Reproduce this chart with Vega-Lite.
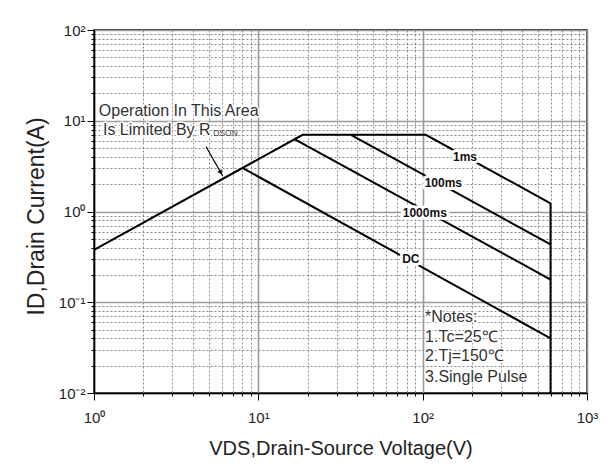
{
  "$schema": "https://vega.github.io/schema/vega-lite/v6.json",
  "width": 493,
  "height": 363,
  "autosize": {"type": "none"},
  "padding": {"left": 94, "top": 30, "right": 26, "bottom": 73},
  "background": "white",
  "config": {
    "view": {"stroke": "black", "strokeWidth": 1.5},
    "font": "Liberation Sans"
  },
  "datasets": {
    "curves": [
      {"s": "limit", "v": 1, "i": 0.378},
      {"s": "limit", "v": 18.6, "i": 7.0},
      {"s": "limit", "v": 104.5, "i": 7.0},
      {"s": "limit", "v": 600, "i": 1.23},
      {"s": "edge", "v": 600, "i": 1.23},
      {"s": "edge", "v": 600, "i": 0.01},
      {"s": "100ms", "v": 36.6, "i": 7.0},
      {"s": "100ms", "v": 600, "i": 0.433},
      {"s": "1000ms", "v": 16.7, "i": 6.25},
      {"s": "1000ms", "v": 600, "i": 0.178},
      {"s": "DC", "v": 8.1, "i": 2.99},
      {"s": "DC", "v": 600, "i": 0.0401}
    ],
    "curveLabels": [
      {"t": "1ms", "v": 181, "i": 4.02},
      {"t": "100ms", "v": 133.6, "i": 2.08},
      {"t": "1000ms", "v": 103, "i": 0.955},
      {"t": "DC", "v": 84.7, "i": 0.296}
    ],
    "notes": [
      {"t": "*Notes:", "v": 103.4, "i": 0.0693},
      {"t": "1.Tc=25℃", "v": 103.4, "i": 0.0417},
      {"t": "2.Tj=150℃", "v": 103.4, "i": 0.0256},
      {"t": "3.Single Pulse", "v": 103.4, "i": 0.0151},
      {"t": "Operation In This Area", "v": 1.07, "i": 12.8},
      {"t": "Is Limited By R", "v": 1.134, "i": 7.91}
    ],
    "sub": [
      {"t": "DSON", "v": 5.32, "i": 7.27}
    ],
    "arrow": [
      {"v": 4.81, "i": 5.18},
      {"v": 6.07, "i": 2.46}
    ],
    "arrowHead": [
      {"v": 5.9, "i": 2.69}
    ]
  },
  "encoding": {
    "x": {
      "field": "v",
      "type": "quantitative",
      "scale": {"type": "log", "domain": [1, 1000], "nice": false},
      "axis": {
        "values": [1, 2, 3, 4, 5, 6, 7, 8, 9, 10, 20, 30, 40, 50, 60, 70, 80, 90, 100, 200, 300, 400, 500, 600, 700, 800, 900, 1000],
        "title": "VDS,Drain-Source Voltage(V)",
        "labelExpr": "datum.value==1?'10⁰':datum.value==10?'10¹':datum.value==100?'10²':datum.value==1000?'10³':''",
        "labelFont": "Liberation Sans",
        "labelFontSize": 15,
        "labelColor": "#222",
        "labelPadding": 10,
        "labelOverlap": false,
        "labelFlush": false,
        "labelDx": 2,
        "tickColor": "black",
        "tickWidth": 1,
        "tickSize": {"condition": {"test": "indexof([1,10,100,1000], datum.value) >= 0", "value": 7}, "value": 3},
        "grid": true,
        "gridColor": {"condition": {"test": "indexof([1,10,100,1000], datum.value) >= 0", "value": "#9a9a9a"}, "value": "#8a8a8a"},
        "gridDash": {"condition": {"test": "indexof([1,10,100,1000], datum.value) >= 0", "value": [1, 0]}, "value": [2, 2]},
        "gridWidth": {"condition": {"test": "indexof([1,10,100,1000], datum.value) >= 0", "value": 1.6}, "value": 1},
        "domainColor": "black",
        "domainWidth": 1.5,
        "titleFont": "Liberation Sans",
        "titleFontSize": 20,
        "titleFontWeight": "normal",
        "titleColor": "#222",
        "titleBaseline": "alphabetic",
        "titleY": 61
      }
    },
    "y": {
      "field": "i",
      "type": "quantitative",
      "scale": {"type": "log", "domain": [0.01, 100], "nice": false},
      "axis": {
        "values": [0.01, 0.02, 0.03, 0.04, 0.05, 0.06, 0.07, 0.08, 0.09, 0.1, 0.2, 0.3, 0.4, 0.5, 0.6, 0.7, 0.8, 0.9, 1, 2, 3, 4, 5, 6, 7, 8, 9, 10, 20, 30, 40, 50, 60, 70, 80, 90, 100],
        "title": "ID,Drain Current(A)",
        "labelExpr": "datum.value==0.01?'10⁻²':datum.value==0.1?'10⁻¹':datum.value==1?'10⁰':datum.value==10?'10¹':datum.value==100?'10²':''",
        "labelFont": "Liberation Sans",
        "labelFontSize": 15,
        "labelColor": "#222",
        "labelPadding": 2,
        "labelOverlap": false,
        "labelFlush": false,
        "tickColor": "black",
        "tickWidth": 1,
        "tickSize": {"condition": {"test": "indexof([0.01,0.1,1,10,100], datum.value) >= 0", "value": 7}, "value": 3},
        "grid": true,
        "gridColor": {"condition": {"test": "indexof([0.01,0.1,1,10,100], datum.value) >= 0", "value": "#9a9a9a"}, "value": "#8a8a8a"},
        "gridDash": {"condition": {"test": "indexof([0.01,0.1,1,10,100], datum.value) >= 0", "value": [1, 0]}, "value": [2, 2]},
        "gridWidth": {"condition": {"test": "indexof([0.01,0.1,1,10,100], datum.value) >= 0", "value": 1.6}, "value": 1},
        "domainColor": "black",
        "domainWidth": 1.5,
        "titleFont": "Liberation Sans",
        "titleFontSize": 23,
        "titleFontWeight": "normal",
        "titleColor": "#222",
        "titleBaseline": "alphabetic",
        "titleX": -51,
        "titleY": 186
      }
    }
  },
  "layer": [
    {
      "data": {"name": "curves"},
      "mark": {"type": "line", "color": "black", "strokeWidth": 2, "clip": true},
      "encoding": {"detail": {"field": "s"}}
    },
    {
      "data": {"name": "arrow"},
      "mark": {"type": "line", "color": "black", "strokeWidth": 1.2},
      "encoding": {}
    },
    {
      "data": {"name": "arrowHead"},
      "mark": {"type": "point", "shape": "triangle-down", "filled": true, "color": "black", "size": 28, "angle": 330, "opacity": 1},
      "encoding": {}
    },
    {
      "data": {"name": "curveLabels"},
      "mark": {"type": "text", "font": "Liberation Sans", "fontSize": 12, "fontWeight": "bold", "stroke": "white", "strokeWidth": 6, "strokeJoin": "round", "fill": "white", "align": "center", "baseline": "middle"},
      "encoding": {"text": {"field": "t"}}
    },
    {
      "data": {"name": "curveLabels"},
      "mark": {"type": "text", "font": "Liberation Sans", "fontSize": 12, "fontWeight": "bold", "color": "#111", "align": "center", "baseline": "middle"},
      "encoding": {"text": {"field": "t"}}
    },
    {
      "data": {"name": "notes"},
      "mark": {"type": "text", "font": "Liberation Sans", "fontSize": 16, "stroke": "white", "strokeWidth": 3, "strokeJoin": "round", "fill": "white", "align": "left", "baseline": "middle"},
      "encoding": {"text": {"field": "t"}}
    },
    {
      "data": {"name": "notes"},
      "mark": {"type": "text", "font": "Liberation Sans", "fontSize": 16, "color": "#333", "align": "left", "baseline": "middle"},
      "encoding": {"text": {"field": "t"}}
    },
    {
      "data": {"name": "sub"},
      "mark": {"type": "text", "font": "Liberation Sans", "fontSize": 8.5, "color": "#444", "align": "left", "baseline": "middle"},
      "encoding": {"text": {"field": "t"}}
    }
  ]
}
